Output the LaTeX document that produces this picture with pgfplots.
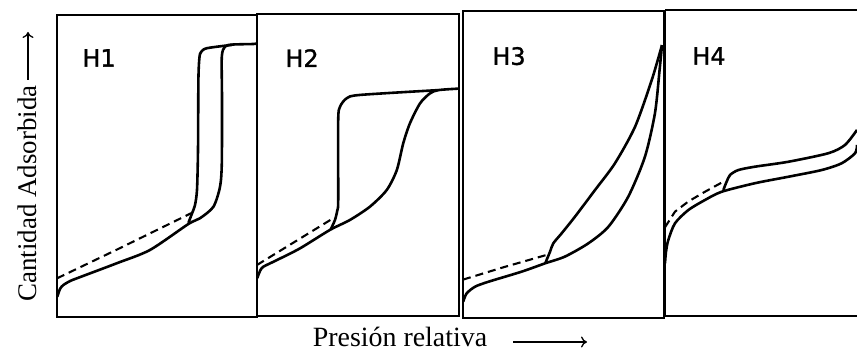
\documentclass[border=0pt]{standalone}
\usepackage{pgfplots}
\pgfplotsset{compat=1.18}
\usepackage{fontspec}
\setmainfont{Liberation Serif}
\newfontfamily\hfont[FakeBold=1.3]{DejaVu Sans}
\usetikzlibrary{arrows.meta}

% one frame per hysteresis type, x = relative pressure, y = amount adsorbed (both 0..1)
\pgfplotsset{
  panel/.style={
    scale only axis, anchor=south west,
    xmin=0, xmax=1, ymin=0, ymax=1,
    xtick=\empty, ytick=\empty,
    axis line style={line width=1.8pt},
  },
  iso/.style={black, line width=2.6pt, smooth, tension=0.45, no marks},
  dsh/.style={black, line width=2.1pt, dash pattern=on 8bp off 5bp, no marks},
}
\tikzset{tag/.style={font=\hfont\fontsize{24}{24}\selectfont}}

\begin{document}
\begin{tikzpicture}
\path[use as bounding box] (0,0) rectangle (857bp,352bp);

% ---- H1
\begin{axis}[panel, at={(57bp,35bp)}, width=200bp, height=302bp]
\addplot[iso] coordinates {
  (0.0015,0.067) (0.015,0.093) (0.032,0.106) (0.065,0.119) (0.099,0.128)
  (0.299,0.178) (0.465,0.222) (0.657,0.308) (0.715,0.327) (0.782,0.365)
  (0.815,0.431) (0.824,0.509) (0.825,0.719) (0.824,0.862) (0.84,0.895)
  (0.875,0.902) (0.982,0.904) (1.0,0.906)};
\addplot[iso] coordinates {
  (0.875,0.901) (0.749,0.89) (0.72,0.877) (0.712,0.858) (0.707,0.785)
  (0.705,0.553) (0.70,0.421) (0.69,0.371) (0.674,0.341) (0.657,0.312)};
\addplot[dsh] coordinates {(0,0.128) (0.299,0.223) (0.675,0.345)};
\node[tag] at (axis cs:0.21,0.858) {H1};
\end{axis}

% ---- H2
\begin{axis}[panel, at={(257bp,36bp)}, width=202bp, height=302bp]
\addplot[iso] coordinates {
  (0.001,0.125) (0.015,0.149) (0.031,0.163) (0.098,0.185) (0.213,0.224)
  (0.361,0.285) (0.46,0.318) (0.559,0.362) (0.642,0.417) (0.692,0.483)
  (0.724,0.572) (0.757,0.638) (0.807,0.704) (0.856,0.737) (0.898,0.748)
  (1.0,0.753)};
\addplot[iso] coordinates {
  (0.898,0.748) (0.51,0.732) (0.444,0.721) (0.411,0.693) (0.402,0.649)
  (0.402,0.384) (0.398,0.351) (0.386,0.318) (0.365,0.287)};
\addplot[dsh] coordinates {(0,0.169) (0.378,0.324)};
\node[tag] at (axis cs:0.223,0.854) {H2};
\end{axis}

% ---- H3
\begin{axis}[panel, at={(463bp,34bp)}, width=201bp, height=307bp]
\addplot[iso] coordinates {
  (0.001,0.053) (0.018,0.08) (0.06,0.102) (0.126,0.118) (0.292,0.151)
  (0.408,0.178) (0.507,0.2) (0.623,0.243) (0.723,0.297) (0.822,0.395)
  (0.905,0.525) (0.955,0.667) (0.978,0.808) (0.99,0.889)};
\addplot[iso] coordinates {
  (0.99,0.889) (0.939,0.775) (0.856,0.623) (0.756,0.504) (0.657,0.417)
  (0.557,0.33) (0.491,0.276) (0.449,0.243) (0.433,0.216) (0.416,0.189)
  (0.41,0.179)};
\addplot[dsh] coordinates {(0,0.125) (0.2,0.165) (0.424,0.207)};
\node[tag] at (axis cs:0.229,0.853) {H3};
\end{axis}

% ---- H4 (right side open, cut by the page)
\begin{axis}[panel, at={(665bp,36bp)}, width=192bp, height=306bp,
  axis x line=box, axis y line=left,
  every non boxed y axis/.append style={y axis line style={-}},
  y axis line style={-}]
\addplot[iso] coordinates {
  (0,0.172) (0.005,0.209) (0.017,0.248) (0.052,0.303) (0.121,0.346)
  (0.208,0.379) (0.295,0.406) (0.469,0.434) (0.642,0.455) (0.816,0.477)
  (0.92,0.499) (0.99,0.532) (1.0,0.559)};
\addplot[iso] coordinates {
  (1.0,0.608) (0.9375,0.559) (0.851,0.532) (0.642,0.504) (0.469,0.488)
  (0.382,0.477) (0.339,0.461) (0.321,0.439) (0.304,0.412)};
\addplot[dsh] coordinates {
  (0,0.29) (0.052,0.341) (0.121,0.374) (0.208,0.406) (0.307,0.44)};
\node[tag] at (axis cs:0.229,0.85) {H4};
\end{axis}

% axis titles shared by all four frames
\node[font=\fontsize{28}{28}\selectfont, anchor=base] at (400bp,6bp) {Presión relativa};
\draw[line width=1.3pt, -{To[length=6bp,width=11bp]}] (513bp,10bp) -- (587bp,10bp);
\node[font=\fontsize{27}{27}\selectfont, rotate=90, anchor=base] at (36bp,158.5bp) {Cantidad Adsorbida};
\draw[line width=1.3pt, -{To[length=6bp,width=11bp]}] (28bp,272bp) -- (28bp,320bp);
\end{tikzpicture}
\end{document}
